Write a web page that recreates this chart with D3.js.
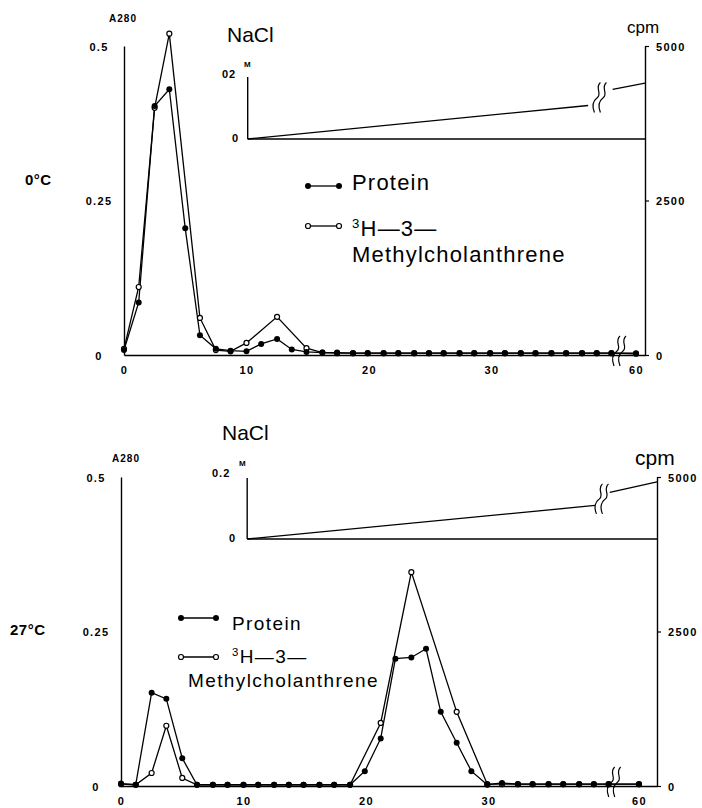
<!DOCTYPE html>
<html>
<head>
<meta charset="utf-8">
<script src="https://cdn.jsdelivr.net/npm/d3@7"></script>
<style>
  body { margin: 0; background: #fff; }
  svg { display: block; font-family: "Liberation Sans", Arial, Helvetica, sans-serif; }
  .tick text { font-weight: bold; font-size: 11px; letter-spacing: 1.3px; fill: #000; }
  .domain { stroke: #000; stroke-width: 1.4; }
  .tick line { stroke: #000; stroke-width: 1.2; }
</style>
</head>
<body>
<svg id="chart" width="702" height="808"></svg>
<script>
// elution position of every fraction, in x-axis units (the last one sits past the break, at 60)
const volume = [0, 1.2, 2.5, 3.7, 5.0, 6.2, 7.5, 8.7, 10.0, 11.2, 12.5, 13.7, 14.9, 16.2, 17.4, 18.7, 19.9,
  21.2, 22.4, 23.7, 24.9, 26.1, 27.4, 28.6, 29.9, 31.1, 32.4, 33.6, 34.9, 36.1, 37.4, 38.6, 39.8, 60];

// 0 °C run
const protein0 = [0.008, 0.085, 0.403, 0.43, 0.205, 0.032, 0.01, 0.007, 0.006, 0.018, 0.026, 0.009, 0.005, 0.004, 0.004,
  0.003, 0.003, 0.003, 0.003, 0.003, 0.003, 0.003, 0.003, 0.003, 0.003, 0.003, 0.003, 0.003, 0.003, 0.003, 0.003, 0.003, 0.003, 0.003];
const mc0 = [100, 1100, 4000, 5200, null, 600, 80, 60, 195, null, 617, null, 110, 40, 30,
  30, 30, 30, 30, 30, 30, 30, 30, 30, 30, 30, 30, 30, 30, 30, 30, 30, 30, 20];
const gradVol0 = [10.1, 37.9, 39.9, 65];
const gradM0 = [0, 0.108, 0.16, 0.18];

// 27 °C run
const protein27 = [0.004, 0.002, 0.151, 0.141, 0.045, 0.002, 0.002, 0.002, 0.002, 0.002, 0.002, 0.002, 0.002, 0.002, 0.002,
  0.002, 0.024, 0.077, 0.206, 0.208, 0.222, 0.12, 0.07, 0.024, 0.002, 0.005, 0.003, 0.003, 0.003, 0.003, 0.003, 0.003, 0.003, 0.003];
const mc27 = [30, 20, 210, 975, 130, 20, 20, 20, 20, 20, 20, 20, 20, 20, 20,
  20, null, 1020, null, 3460, null, null, 1200, null, 30, 30, 30, 30, 30, 30, 30, 30, 30, 30];
const gradVol27 = [10.3, 38.7, 39.9, 65];
const gradM27 = [0, 0.11, 0.153, 0.187];

const xTicks = [0, 10, 20, 30, 60];
const a280Ticks = [0, 0.25, 0.5];
const cpmTicks = [0, 2500, 5000];

const svg = d3.select('#chart');

// two wavy strokes marking an axis break
function breakMark(g, cx, cy, h) {
  [-3, 3].forEach(dx => {
    const x0 = cx + dx;
    g.append('path')
      .attr('d', `M${x0 + 3},${cy - h / 2} C${x0 - 3},${cy - h / 3} ${x0 + 5},${cy - h / 8} ${x0},${cy}`
        + ` S${x0 - 5},${cy + h / 3} ${x0 - 3},${cy + h / 2}`)
      .attr('fill', 'none')
      .attr('stroke', '#000')
      .attr('stroke-width', 1.2);
  });
}

function drawPanel(p) {
  const g = svg.append('g');

  const x = d3.scaleLinear().domain([0, p.breakAt, 60, 65]).range(p.xRange);
  const y = d3.scaleLinear().domain([0, 0.5]).range(p.yRange);
  const yc = d3.scaleLinear().domain([0, 5000]).range(p.yRange);
  const yM = d3.scaleLinear().domain([0, 0.2]).range(p.mRange);

  // axes
  g.append('g')
    .attr('transform', `translate(0,${y(0)})`)
    .call(d3.axisBottom(x).tickValues(xTicks).tickSize(0).tickSizeOuter(0).tickPadding(11).tickFormat(d => d));
  const left = g.append('g')
    .attr('transform', `translate(${x(0)},0)`)
    .call(d3.axisLeft(y).tickValues(a280Ticks).tickSize(0).tickSizeOuter(0).tickPadding(25).tickFormat(d => d));
  left.selectAll('.tick text').attr('text-anchor', 'middle').attr('dy', '0.4em');
  const right = g.append('g')
    .attr('transform', `translate(${x(65)},0)`)
    .call(d3.axisRight(yc).tickValues(cpmTicks).tickSize(4).tickSizeOuter(0).tickPadding(7).tickFormat(d => d));
  right.selectAll('.tick text').attr('dy', '0.4em');
  g.selectAll('.domain').attr('stroke-width', 1.4);

  breakMark(g, x(p.breakAt), y(0) - 4, 30);

  // NaCl gradient inset
  const gx = x(p.gradVol[0]);
  g.append('line')
    .attr('x1', gx).attr('x2', gx)
    .attr('y1', yM(0)).attr('y2', yM(0.2))
    .attr('stroke', '#000').attr('stroke-width', 1.4);
  g.append('line')
    .attr('x1', gx).attr('x2', x(65))
    .attr('y1', yM(0)).attr('y2', yM(0))
    .attr('stroke', '#000').attr('stroke-width', 1.3);
  const grad = p.gradVol.map((v, i) => ({ v, m: p.gradM[i] }));
  const gLine = d3.line().x(d => x(d.v)).y(d => yM(d.m));
  [grad.slice(0, 2), grad.slice(2)].forEach(seg => {
    g.append('path').attr('d', gLine(seg))
      .attr('fill', 'none').attr('stroke', '#000').attr('stroke-width', 1.3);
  });
  breakMark(g, (x(grad[1].v) + x(grad[2].v)) / 2, (yM(grad[1].m) + yM(grad[2].m)) / 2, 30);

  const txt = (tx, ty, s, size, weight, anchor) => g.append('text')
    .attr('x', tx).attr('y', ty)
    .attr('font-size', size).attr('font-weight', weight || 'normal')
    .attr('text-anchor', anchor || 'start')
    .text(s);

  txt(p.nacl[0], p.nacl[1], 'NaCl', 21);
  txt(p.mTop[0], p.mTop[1], p.mTopLabel, 11, 'bold').attr('letter-spacing', 1);
  txt(p.mTop[0] + p.mTopW, p.mTop[1] - 11, 'M', 8, 'bold');
  txt(p.mZero[0], p.mZero[1], '0', 11, 'bold');
  txt(p.cpm[0], p.cpm[1], 'cpm', p.cpmSize);
  txt(p.a280[0], p.a280[1], 'A280', 10, 'bold', 'middle').attr('letter-spacing', 1);
  txt(p.temp[0], p.temp[1], p.tempLabel, 15, 'bold').attr('letter-spacing', 0.5);

  // elution profiles
  const mcPts = volume.map((v, i) => ({ v, c: p.mc[i] })).filter(d => d.c !== null);
  const protPts = volume.map((v, i) => ({ v, a: p.protein[i] }));

  g.append('path')
    .attr('d', d3.line().x(d => x(d.v)).y(d => yc(d.c))(mcPts))
    .attr('fill', 'none').attr('stroke', '#000').attr('stroke-width', 1.3);
  g.append('path')
    .attr('d', d3.line().x(d => x(d.v)).y(d => y(d.a))(protPts))
    .attr('fill', 'none').attr('stroke', '#000').attr('stroke-width', 1.3);

  g.selectAll('.open').data(mcPts).join('circle')
    .attr('class', 'open')
    .attr('cx', d => x(d.v)).attr('cy', d => yc(d.c)).attr('r', 2.5)
    .attr('fill', '#fff').attr('stroke', '#000').attr('stroke-width', 1.2);
  g.selectAll('.filled').data(protPts).join('circle')
    .attr('class', 'filled')
    .attr('cx', d => x(d.v)).attr('cy', d => y(d.a)).attr('r', 3)
    .attr('fill', '#000');

  // legend
  const lg = p.legend;
  [[lg.y1, true], [lg.y2, false]].forEach(([ly, filled]) => {
    g.append('line')
      .attr('x1', lg.x1).attr('x2', lg.x2).attr('y1', ly).attr('y2', ly)
      .attr('stroke', '#000').attr('stroke-width', 1.3);
    [lg.x1, lg.x2].forEach(cx => {
      g.append('circle').attr('cx', cx).attr('cy', ly).attr('r', filled ? 3 : 2.5)
        .attr('fill', filled ? '#000' : '#fff').attr('stroke', '#000').attr('stroke-width', filled ? 0 : 1.2);
    });
  });
  txt(lg.tx, lg.t1, 'Protein', lg.size).attr('letter-spacing', lg.ls);
  const h3 = txt(lg.tx, lg.t2, '', lg.size).attr('letter-spacing', lg.ls);
  h3.append('tspan').attr('font-size', lg.size * 0.6).attr('dy', -lg.size * 0.35).text('3');
  h3.append('tspan').attr('dy', lg.size * 0.35).text('H\u20143\u2014');
  txt(lg.mx, lg.t3, 'Methylcholanthrene', lg.size).attr('letter-spacing', lg.ls);
}

drawPanel({
  protein: protein0, mc: mc0, gradVol: gradVol0, gradM: gradM0,
  breakAt: 40.5, xRange: [124, 620, 636, 645], yRange: [355, 46], mRange: [139, 77],
  nacl: [227, 42], mTop: [222, 78], mTopLabel: '02', mTopW: 22, mZero: [232, 142],
  cpm: [627, 33], cpmSize: 17, a280: [123, 22], temp: [25, 185], tempLabel: '0\u00B0C',
  legend: { x1: 308, x2: 339, y1: 186, y2: 226, tx: 352, t1: 190, t2: 236, t3: 262, mx: 352, size: 22, ls: 1.2 }
});

drawPanel({
  protein: protein27, mc: mc27, gradVol: gradVol27, gradM: gradM27,
  breakAt: 40.3, xRange: [121, 614.7, 639, 657], yRange: [786, 477], mRange: [539, 478],
  nacl: [222, 440], mTop: [212, 477], mTopLabel: '0.2', mTopW: 27, mZero: [229, 542],
  cpm: [635, 465], cpmSize: 21, a280: [126, 462], temp: [10, 635], tempLabel: '27\u00B0C',
  legend: { x1: 181, x2: 216, y1: 618, y2: 657, tx: 232, t1: 630, t2: 663, t3: 687, mx: 188, size: 19, ls: 1.4 }
});
</script>
</body>
</html>
